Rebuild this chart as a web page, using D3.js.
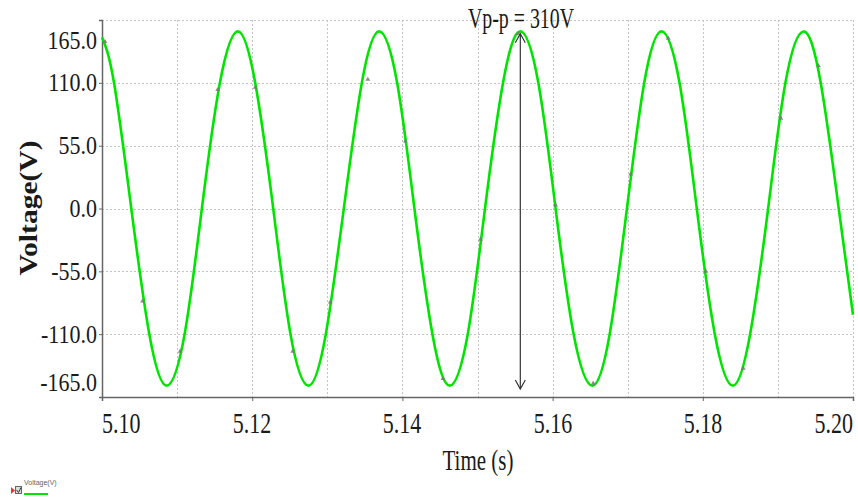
<!DOCTYPE html>
<html>
<head>
<meta charset="utf-8">
<script src="https://cdn.jsdelivr.net/npm/d3@7"></script>
<style>
  html, body { margin: 0; padding: 0; background: #fff; }
  svg { display: block; }
</style>
</head>
<body>
<div id="chart"></div>
<script>
// values
const timeData = [5.1000, 5.1016, 5.1039, 5.1063, 5.1086, 5.1110, 5.1133, 5.1157, 5.1181,
  5.1204, 5.1228, 5.1251, 5.1275, 5.1298, 5.1322, 5.1346, 5.1369,
  5.1393, 5.1416, 5.1440, 5.1463, 5.1487, 5.1510, 5.1534, 5.1557,
  5.1581, 5.1604, 5.1628, 5.1653, 5.1676, 5.1699, 5.1722, 5.1745,
  5.1769, 5.1792, 5.1816, 5.1840, 5.1863, 5.1887, 5.1910, 5.1934,
  5.1957, 5.1981, 5.2000];
const voltageData = [150, 110, 0, -110, -155, -110, 0, 110, 155,
  110, 0, -110, -155, -110, 0, 110, 155,
  110, 0, -110, -155, -110, 0, 110, 155,
  110, 0, -110, -155, -110, 0, 110, 155,
  110, 0, -110, -155, -110, 0, 110, 155,
  110, 0, -93];

const markerTimes = [5.1004, 5.1054, 5.1104, 5.1154, 5.1204, 5.1254, 5.1304, 5.1354, 5.1404, 5.1454,
  5.1504, 5.1554, 5.1604, 5.1654, 5.1704, 5.1754, 5.1804, 5.1854, 5.1904, 5.1954];
const markerVolts = [146, -81, -125, 104, 106, -125, -82, 113, 59, -149,
  -27, 153, 3, -153, 30, 149, -55, -140, 79, 125];

const xTicks = [5.10, 5.12, 5.14, 5.16, 5.18, 5.20];
const xGrid = [5.11, 5.12, 5.13, 5.14, 5.15, 5.16, 5.17, 5.18, 5.19, 5.20];
const yTicks = [165, 110, 55, 0, -55, -110, -165];

const W = 858, H = 501;
const plotL = 102, plotR = 853, plotT = 20, plotB = 397;
const serif = '"Liberation Serif", "Times New Roman", serif';

const svg = d3.select('#chart').append('svg')
  .attr('width', W).attr('height', H);

const x = d3.scaleLinear().domain([5.10, 5.20]).range([plotL, plotR]);
const y = d3.scaleLinear().domain([-165, 165]).range([plotB, plotT]);

// grid
const grid = svg.append('g').attr('stroke', '#c4c4c4').attr('stroke-width', 1)
  .attr('stroke-dasharray', '2,2');
grid.selectAll('line.v').data(xGrid).enter().append('line')
  .attr('x1', d => Math.round(x(d)) + 0.5).attr('x2', d => Math.round(x(d)) + 0.5)
  .attr('y1', plotT).attr('y2', plotB);
grid.selectAll('line.h').data(yTicks.filter(d => d > -165)).enter().append('line')
  .attr('x1', plotL).attr('x2', plotR)
  .attr('y1', d => Math.round(y(d)) + 0.5).attr('y2', d => Math.round(y(d)) + 0.5);

// axes
const xAxis = d3.axisBottom(x).tickValues(xTicks).tickSize(4).tickFormat('');
const yAxis = d3.axisLeft(y).tickValues(yTicks).tickSize(3).tickFormat('');
svg.append('g').attr('transform', `translate(0,${plotB})`).call(xAxis)
  .call(g => g.select('.domain').attr('stroke', '#666').attr('stroke-width', 1.5))
  .call(g => g.selectAll('.tick line').attr('stroke', '#666'));
svg.append('g').attr('transform', `translate(${plotL},0)`).call(yAxis)
  .call(g => g.select('.domain').attr('stroke', '#666').attr('stroke-width', 1.5))
  .call(g => g.selectAll('.tick line').attr('stroke', '#666'));

// stretched text helper (the picture's glyphs are taller than wide)
function label(g, px, py, txt, opts) {
  const t = g.append('text')
    .attr('transform', `translate(${px},${py}) scale(1,${opts.sy || 1})` + (opts.rot ? ` rotate(${opts.rot})` : ''))
    .attr('font-family', opts.family || serif)
    .attr('font-size', opts.size)
    .attr('font-weight', opts.weight || 'normal')
    .attr('fill', opts.fill || '#1a1a1a')
    .attr('text-anchor', opts.anchor || 'middle')
    .text(txt);
  if (opts.len) t.attr('textLength', opts.len).attr('lengthAdjust', 'spacingAndGlyphs');
  return t;
}

const labels = svg.append('g');
xTicks.forEach((d, i) => {
  const anchor = i === 0 ? 'start' : (i === xTicks.length - 1 ? 'end' : 'middle');
  label(labels, Math.round(x(d)), 433, d.toFixed(2), { size: 22, sy: 1.35, anchor: anchor });
});
yTicks.forEach(d => {
  let cy = y(d);
  if (d === 165) cy = 40;
  if (d === -165) cy = 382;
  label(labels, 97, cy + 7.5 * 1.15, d.toFixed(1), { size: 22, sy: 1.15, anchor: 'end' });
});

label(labels, 478, 470, 'Time (s)', { size: 21, sy: 1.4 });
label(labels, 37, 208, 'Voltage(V)', { size: 25, rot: -90, weight: 'bold', len: 135 });

// waveform
const pts = timeData.map((t, i) => [x(t), y(voltageData[i])]);
const line = d3.line().curve(d3.curveNatural);
svg.append('path')
  .attr('d', line(pts))
  .attr('fill', 'none')
  .attr('stroke', '#00e400')
  .attr('stroke-width', 2.6);

// small sample markers
svg.append('g').selectAll('path').data(markerTimes).enter().append('path')
  .attr('d', d3.symbol().type(d3.symbolTriangle).size(10))
  .attr('transform', (d, i) => `translate(${x(d)},${y(markerVolts[i])})`)
  .attr('fill', '#777').attr('opacity', 0.85);

// peak-to-peak annotation
const ax = x(5.1557);
const ann = svg.append('g').attr('stroke', '#333').attr('stroke-width', 1.2).attr('fill', 'none');
ann.append('line').attr('x1', ax).attr('x2', ax).attr('y1', y(153)).attr('y2', y(-158));
ann.append('path').attr('d', `M${ax - 5},${y(153) + 9}L${ax},${y(153)}L${ax + 5},${y(153) + 9}`);
ann.append('path').attr('d', `M${ax - 5},${y(-158) - 9}L${ax},${y(-158)}L${ax + 5},${y(-158) - 9}`);
label(svg, 521, 28, 'Vp-p = 310V', { size: 22, sy: 1.3, len: 106 });

// legend
const leg = svg.append('g');
leg.append('path').attr('d', 'M11,487L15,490.5L11,494Z').attr('fill', '#e33');
leg.append('rect').attr('x', 15.5).attr('y', 486.5).attr('width', 6).attr('height', 7)
  .attr('fill', '#ddd').attr('stroke', '#666').attr('stroke-width', 1);
leg.append('path').attr('d', 'M16.5,490L18.5,492.5L21,487.5').attr('stroke', '#333').attr('fill', 'none');
label(leg, 24, 485, 'Voltage(V)', { size: 7, anchor: 'start', family: 'Arial, "Liberation Sans", sans-serif', fill: '#666' });
leg.append('line').attr('x1', 24).attr('x2', 48).attr('y1', 494).attr('y2', 494)
  .attr('stroke', '#00e400').attr('stroke-width', 2);
</script>
</body>
</html>
